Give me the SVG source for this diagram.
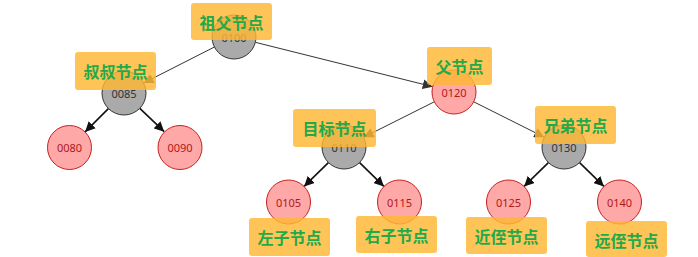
<svg xmlns="http://www.w3.org/2000/svg" width="698" height="257" viewBox="0 0 698 257">
<style>
.g{fill:#aaaaaa;stroke:#333;stroke-width:1}
.r{fill:#ffa8a8;stroke:#c82020;stroke-width:1}
.gt{font-family:"Noto Sans","Open Sans",sans-serif;font-size:11px;fill:#333;text-anchor:middle;dominant-baseline:central}
.rt{font-family:"Noto Sans","Open Sans",sans-serif;font-size:11px;fill:#b01818;text-anchor:middle;dominant-baseline:central}
.lb{fill:#ffb733;fill-opacity:0.82}
.lt{font-family:"Noto Sans CJK SC","Noto Sans",sans-serif;font-size:16px;font-weight:bold;fill:#22a94a;text-anchor:middle;dominant-baseline:central}
.e1{stroke:#333;stroke-width:1;fill:none;marker-end:url(#a1)}
.e2{stroke:#111;stroke-width:1.6;fill:none;marker-end:url(#a2)}
</style>
<defs>
<marker id="a1" markerUnits="userSpaceOnUse" markerWidth="12" markerHeight="10" refX="10" refY="5" orient="auto"><path d="M0,0 L10,5 L0,10 Z" fill="#333"/></marker>
<marker id="a2" markerUnits="userSpaceOnUse" markerWidth="12" markerHeight="10" refX="10" refY="5" orient="auto"><path d="M0,0 L10,5 L0,10 Z" fill="#111"/></marker>
</defs>
<g id="connectors">
<line class="e1" x1="214.4" y1="47" x2="143.6" y2="83"/>
<line class="e1" x1="255.3" y1="42.3" x2="432.7" y2="86.7"/>
<line class="e1" x1="434.3" y1="101.8" x2="363.7" y2="137.2"/>
<line class="e1" x1="473.7" y1="101.8" x2="544.3" y2="137.2"/>
<line class="e2" x1="108.4" y1="108.6" x2="85.1" y2="131.9"/>
<line class="e2" x1="139.8" y1="108.3" x2="164.2" y2="131.7"/>
<line class="e2" x1="328.4" y1="162.6" x2="304.1" y2="186.4"/>
<line class="e2" x1="359.6" y1="162.6" x2="383.9" y2="186.4"/>
<line class="e2" x1="548.4" y1="162.6" x2="524.1" y2="186.4"/>
<line class="e2" x1="579.6" y1="162.6" x2="603.9" y2="186.4"/>
</g>
<g id="n0100"><circle class="g" cx="234" cy="37" r="22"/><text class="gt" x="234" y="37">0100</text></g>
<g id="n0085"><circle class="g" cx="124" cy="93" r="22"/><text class="gt" x="124" y="93">0085</text></g>
<g id="n0120"><circle class="r" cx="454" cy="92" r="22"/><text class="rt" x="454" y="92">0120</text></g>
<g id="n0080"><circle class="r" cx="69.5" cy="147.5" r="22"/><text class="rt" x="69.5" y="147.5">0080</text></g>
<g id="n0090"><circle class="r" cx="180" cy="147.5" r="22"/><text class="rt" x="180" y="147.5">0090</text></g>
<g id="n0110"><circle class="g" cx="344" cy="147" r="22"/><text class="gt" x="344" y="147">0110</text></g>
<g id="n0130"><circle class="g" cx="564" cy="147" r="22"/><text class="gt" x="564" y="147">0130</text></g>
<g id="n0105"><circle class="r" cx="288.5" cy="202" r="22"/><text class="rt" x="288.5" y="202">0105</text></g>
<g id="n0115"><circle class="r" cx="399.5" cy="202" r="22"/><text class="rt" x="399.5" y="202">0115</text></g>
<g id="n0125"><circle class="r" cx="508.5" cy="202" r="22"/><text class="rt" x="508.5" y="202">0125</text></g>
<g id="n0140"><circle class="r" cx="619.5" cy="202" r="22"/><text class="rt" x="619.5" y="202">0140</text></g>
<g id="l-grandparent"><rect class="lb" x="191" y="3" width="81" height="37" rx="3"/><text class="lt" x="231.5" y="21.5">祖父节点</text></g>
<g id="l-uncle"><rect class="lb" x="75" y="52" width="81" height="38" rx="3"/><text class="lt" x="115.5" y="71">叔叔节点</text></g>
<g id="l-parent"><rect class="lb" x="427" y="47" width="65" height="38" rx="3"/><text class="lt" x="459.5" y="66">父节点</text></g>
<g id="l-target"><rect class="lb" x="293" y="109" width="83" height="38" rx="3"/><text class="lt" x="334.5" y="128">目标节点</text></g>
<g id="l-sibling"><rect class="lb" x="535" y="106" width="81" height="38" rx="3"/><text class="lt" x="575.5" y="125">兄弟节点</text></g>
<g id="l-left"><rect class="lb" x="249" y="218" width="81" height="38" rx="3"/><text class="lt" x="289.5" y="237">左子节点</text></g>
<g id="l-right"><rect class="lb" x="356" y="216" width="81" height="37" rx="3"/><text class="lt" x="396.5" y="234.5">右子节点</text></g>
<g id="l-near"><rect class="lb" x="466" y="217" width="81" height="37" rx="3"/><text class="lt" x="506.5" y="235.5">近侄节点</text></g>
<g id="l-far"><rect class="lb" x="586" y="221" width="81" height="36" rx="3"/><text class="lt" x="626.5" y="239.5">远侄节点</text></g>
</svg>
